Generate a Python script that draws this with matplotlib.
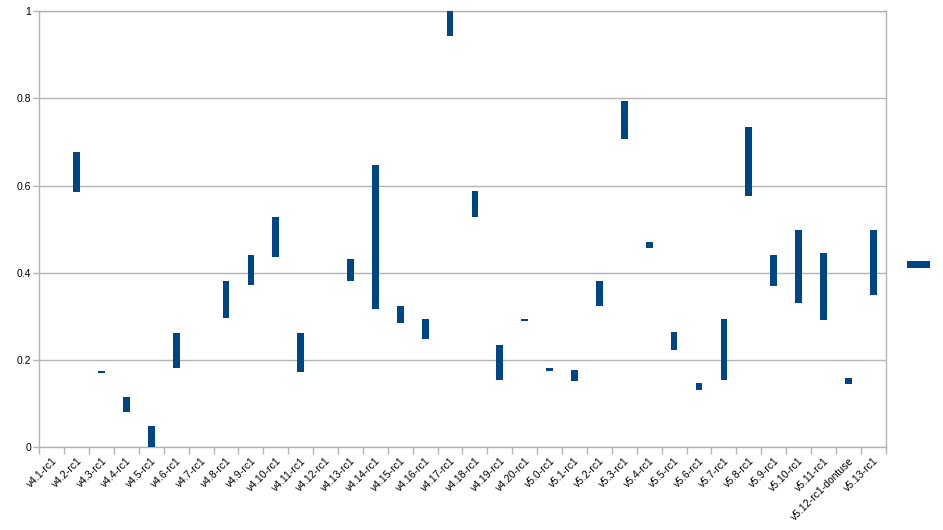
import matplotlib
matplotlib.use("Agg")
import matplotlib.pyplot as plt
from matplotlib.patches import Patch
import numpy as np

versions = ["v4.1-rc1", "v4.2-rc1", "v4.3-rc1", "v4.4-rc1", "v4.5-rc1", "v4.6-rc1",
            "v4.7-rc1", "v4.8-rc1", "v4.9-rc1", "v4.10-rc1", "v4.11-rc1", "v4.12-rc1",
            "v4.13-rc1", "v4.14-rc1", "v4.15-rc1", "v4.16-rc1", "v4.17-rc1", "v4.18-rc1",
            "v4.19-rc1", "v4.20-rc1", "v5.0-rc1", "v5.1-rc1", "v5.2-rc1", "v5.3-rc1",
            "v5.4-rc1", "v5.5-rc1", "v5.6-rc1", "v5.7-rc1", "v5.8-rc1", "v5.9-rc1",
            "v5.10-rc1", "v5.11-rc1", "v5.12-rc1-dontuse", "v5.13-rc1"]

nan = float("nan")
low = [nan, 0.586, 0.170, 0.082, 0.0, 0.182,
       nan, 0.297, 0.373, 0.436, 0.173, nan,
       0.381, 0.318, 0.285, 0.249, 0.944, 0.529,
       0.154, 0.289, 0.176, 0.153, 0.324, 0.707,
       0.456, 0.223, 0.131, 0.155, 0.577, 0.370,
       0.332, 0.293, 0.146, 0.350]
high = [nan, 0.677, 0.176, 0.116, 0.049, 0.263,
        nan, 0.381, 0.440, 0.528, 0.263, nan,
        0.432, 0.647, 0.323, 0.294, 1.0, 0.587,
        0.234, 0.294, 0.182, 0.177, 0.381, 0.794,
        0.470, 0.264, 0.147, 0.294, 0.735, 0.440,
        0.499, 0.446, 0.160, 0.499]

blue = "#004586"
grey = "#b3b3b3"

fig = plt.figure(figsize=(9.43, 5.3), dpi=100)
ax = fig.add_axes([0.0417, 0.156, 0.8975, 0.823])

x = np.arange(len(versions))
lo = np.array(low)
hi = np.array(high)
ax.bar(x, hi - lo, bottom=lo, width=0.27, color=blue, zorder=3)

ax.set_xlim(-0.5, len(versions) - 0.5)
ax.set_ylim(0, 1)
ax.set_yticks([0, 0.2, 0.4, 0.6, 0.8, 1])
ax.set_yticklabels(["0", "0.2", "0.4", "0.6", "0.8", "1"])
ax.grid(axis="y", color=grey, linewidth=1, zorder=0)

ax.set_xticks(x)
ax.set_xticklabels(versions, rotation=45, ha="right", rotation_mode="anchor")
ax.set_xticks(np.arange(len(versions) + 1) - 0.5, minor=True)
ax.tick_params(axis="x", which="major", length=0, pad=6, labelsize=7.5, labelcolor="#000000")
ax.tick_params(axis="x", which="minor", length=5, color=grey, width=1)
ax.tick_params(axis="y", length=4, color=grey, width=1, labelsize=7.5, pad=2)
for lab in ax.get_xticklabels() + ax.get_yticklabels():
    lab.set_fontfamily("Liberation Sans")

for s in ax.spines.values():
    s.set_color(grey)
    s.set_linewidth(1)

fig.legend(handles=[Patch(facecolor=blue)], labels=[""], loc="center",
           bbox_to_anchor=(0.974, 0.5), frameon=False,
           handlelength=1.6, handleheight=0.4, handletextpad=0)

fig.savefig("out.png", dpi=100)
